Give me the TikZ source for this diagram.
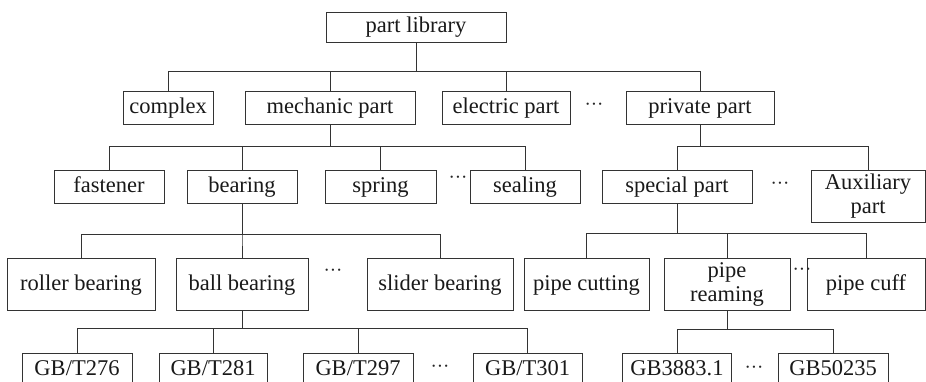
\documentclass[tikz,border=0pt]{standalone}
\usepackage{fontspec}
\setmainfont{Liberation Serif}
\usetikzlibrary{calc}

\begin{document}
\begin{tikzpicture}[
    x=1pt, y=-1pt,
    % Boxes of the part tree
    box/.style={draw=black!80, line width=0.9pt, inner sep=0pt, align=center,
        font=\fontsize{22.5}{24}\selectfont, text=black!90},
    onerow/.style={box, minimum height=33pt, text height=17pt, text depth=5pt},
    tallone/.style={box, minimum height=52pt, text height=17pt, text depth=5pt},
    tworow/.style={box, minimum height=52pt},
    % The "..." marks between siblings
    more/.style={font=\fontsize{19}{19}\selectfont, text=black!85, inner sep=0pt},
    link/.style={draw=black!80, line width=0.9pt}
]
\useasboundingbox (0,0) rectangle (926,382);
\clip (0,0) rectangle (926,382);

% ==========================================
% LEVEL 0 AND 1
% ==========================================
\node[onerow, minimum width=180pt, minimum height=30pt] (lib) at (416,27) {part library};

\node[onerow, minimum width=90pt]  (complex)  at (168,107.5) {complex};
\node[onerow, minimum width=170pt] (mechanic) at (330,107.5) {mechanic part};
\node[onerow, minimum width=128pt] (electric) at (506,107.5) {electric part};
\node[onerow, minimum width=148pt] (private)  at (700,107.5) {private part};
\node[more] (more1) at (594,107) {···};

\foreach \c in {complex, mechanic, electric, private}
    \draw[link] (lib.south) -- ++(0,29) -| (\c.north);

% ==========================================
% LEVEL 2
% ==========================================
\node[onerow, minimum width=110pt] (fastener) at (109,186.5) {fastener};
\node[onerow, minimum width=110pt] (bearing)  at (242,186.5) {bearing};
\node[onerow, minimum width=111pt] (spring)   at (380.5,186.5) {spring};
\node[onerow, minimum width=110pt] (sealing)  at (525,186.5) {sealing};
\node[more] (more2) at (458,180) {···};

\node[onerow, minimum width=150pt] (special)   at (677,186.5) {special part};
\node[tworow, minimum width=114pt] (auxiliary) at (868,196) {Auxiliary\\part};
\node[more] (more3) at (780,186) {···};

\foreach \c in {fastener, bearing, spring, sealing}
    \draw[link] (mechanic.south) -- ++(0,22) -| (\c.north);
\foreach \c in {special, auxiliary}
    \draw[link] (private.south) -- ++(0,22) -| (\c.north);

% ==========================================
% LEVEL 3
% ==========================================
\node[tallone, minimum width=148pt] (roller) at (81,284) {roller bearing};
\node[tallone, minimum width=132pt] (ball)   at (242,284) {ball bearing};
\node[tallone, minimum width=146pt] (slider) at (440,284) {slider bearing};
\node[more] (more4) at (333,273) {···};

\node[tallone, minimum width=125pt] (cutting) at (586.5,284) {pipe cutting};
\node[tworow,  minimum width=126pt] (reaming) at (727,284) {pipe\\reaming};
\node[tallone, minimum width=118pt] (cuff)    at (866,284) {pipe cuff};
\node[more] (more5) at (802,272) {···};

\foreach \c in {roller, ball, slider}
    \draw[link] (bearing.south) -- ++(0,31) -| (\c.north);
\foreach \c in {cutting, reaming, cuff}
    \draw[link] (special.south) -- ++(0,30) -| (\c.north);

% ==========================================
% LEVEL 4 (cut by the lower edge)
% ==========================================
\node[onerow, minimum width=110pt] (gb276) at (77,369.5) {GB/T276};
\node[onerow, minimum width=108pt] (gb281) at (213,369.5) {GB/T281};
\node[onerow, minimum width=110pt] (gb297) at (358,369.5) {GB/T297};
\node[onerow, minimum width=109pt] (gb301) at (527.5,369.5) {GB/T301};
\node[more] (more6) at (440,369) {···};

\node[onerow, minimum width=109pt] (gb3883)  at (677,369.5) {GB3883.1};
\node[onerow, minimum width=110pt] (gb50235) at (833,369.5) {GB50235};
\node[more] (more7) at (754,370) {···};

\foreach \c in {gb276, gb281, gb297, gb301}
    \draw[link] (ball.south) -- ++(0,18) -| (\c.north);
\foreach \c in {gb3883, gb50235}
    \draw[link] (reaming.south) -- ++(0,19) -| (\c.north);

\end{tikzpicture}
\end{document}
